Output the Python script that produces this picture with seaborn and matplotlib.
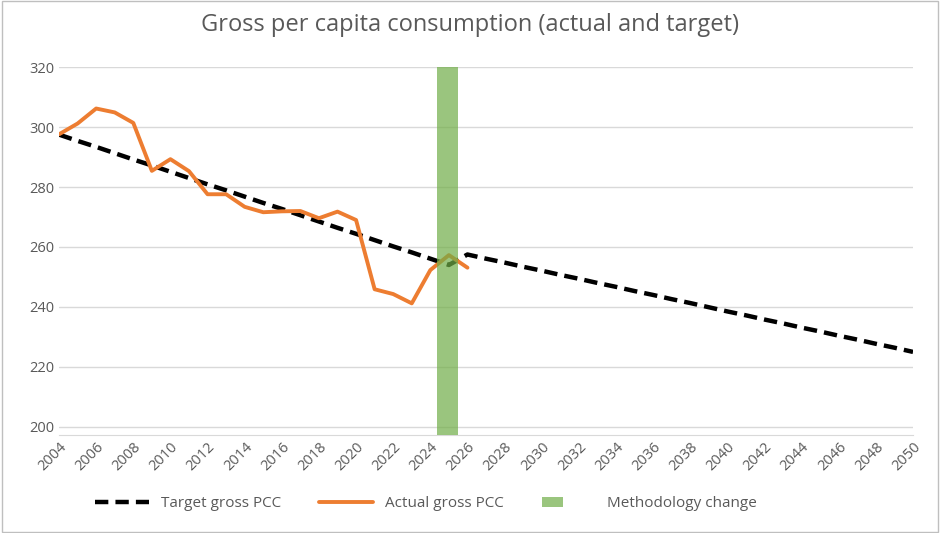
import matplotlib
matplotlib.use("Agg")
import matplotlib.pyplot as plt
import seaborn as sns
import pandas as pd
from matplotlib.patches import Patch
from matplotlib.lines import Line2D

years = list(range(2004, 2051))
target = [297.5, 295.4, 293.4, 291.3, 289.2, 287.2, 285.1, 283.0, 280.9, 278.9,
          276.8, 274.7, 272.7, 270.6, 268.5, 266.4, 264.4, 262.3, 260.2, 258.2,
          256.1, 254.0, 257.5, 256.1, 254.8, 253.4, 252.1, 250.7, 249.4, 248.0,
          246.7, 245.3, 244.0, 242.6, 241.3, 239.9, 238.5, 237.2, 235.8, 234.5,
          233.1, 231.8, 230.4, 229.1, 227.7, 226.4, 225.0]
actual_years = list(range(2004, 2027))
actual = [297.6, 301.2, 306.2, 304.9, 301.4, 285.4, 289.3, 285.3, 277.6, 277.6,
          273.4, 271.6, 271.9, 272.0, 269.6, 271.8, 269.0, 245.9, 244.3, 241.2,
          252.3, 257.3, 253.1]
change_year = 2025

df_t = pd.DataFrame({"year": years, "pcc": target})
df_a = pd.DataFrame({"year": actual_years, "pcc": actual})

sns.set_style("white")
plt.rcParams["font.family"] = ["Open Sans", "DejaVu Sans"]

fig = plt.figure(figsize=(9.4, 5.33), dpi=100)
ax = fig.add_axes([0.0628, 0.184, 0.9085, 0.69])

sns.lineplot(data=df_t, x="year", y="pcc", ax=ax, color="black", lw=3.2,
             linestyle=(0, (3, 1.6)))
sns.lineplot(data=df_a, x="year", y="pcc", ax=ax, color="#ED7D31", lw=2.8)
ax.axvspan(change_year - 0.65, change_year + 0.5, color="#70AD47", alpha=0.7,
           lw=0, zorder=3)

ax.set_xlim(2004, 2050)
ax.set_ylim(197.3, 320)
ax.set_yticks(range(200, 321, 20))
ax.set_xticks(range(2004, 2051, 2))
ax.tick_params(axis="x", rotation=45, labelsize=10.5, colors="#595959", length=0)
ax.tick_params(axis="y", labelsize=10.5, colors="#595959", length=0)
for lab in ax.get_xticklabels():
    lab.set_ha("right")
    lab.set_rotation_mode("anchor")
ax.grid(axis="y", color="#D9D9D9", lw=1)
for s in ["top", "right", "left"]:
    ax.spines[s].set_visible(False)
ax.spines["bottom"].set_color("#D9D9D9")
ax.set_xlabel("")
ax.set_ylabel("")

fig.suptitle("Gross per capita consumption (actual and target)", y=0.975,
             fontsize=17, color="#595959")
handles = [Line2D([], [], color="black", lw=3.2, linestyle=(0, (3, 1.6))),
           Line2D([], [], color="#ED7D31", lw=2.8),
           Patch(facecolor="#70AD47", alpha=0.7, lw=0)]
labels = ["Target gross PCC", "Actual gross PCC", "Methodology change"]
leg = ax.legend(handles, labels, loc="upper center", bbox_to_anchor=(0.43, -0.13),
                ncol=3, frameon=False, fontsize=11, labelcolor="#595959",
                handlelength=3.5, columnspacing=2.5)
leg.legend_handles[2].set_width(15)
fig.patches.append(plt.Rectangle((0.002, 0.002), 0.996, 0.996, transform=fig.transFigure,
                                 fill=False, ec="#BFBFBF", lw=1))
fig.savefig("out.png", dpi=100)
